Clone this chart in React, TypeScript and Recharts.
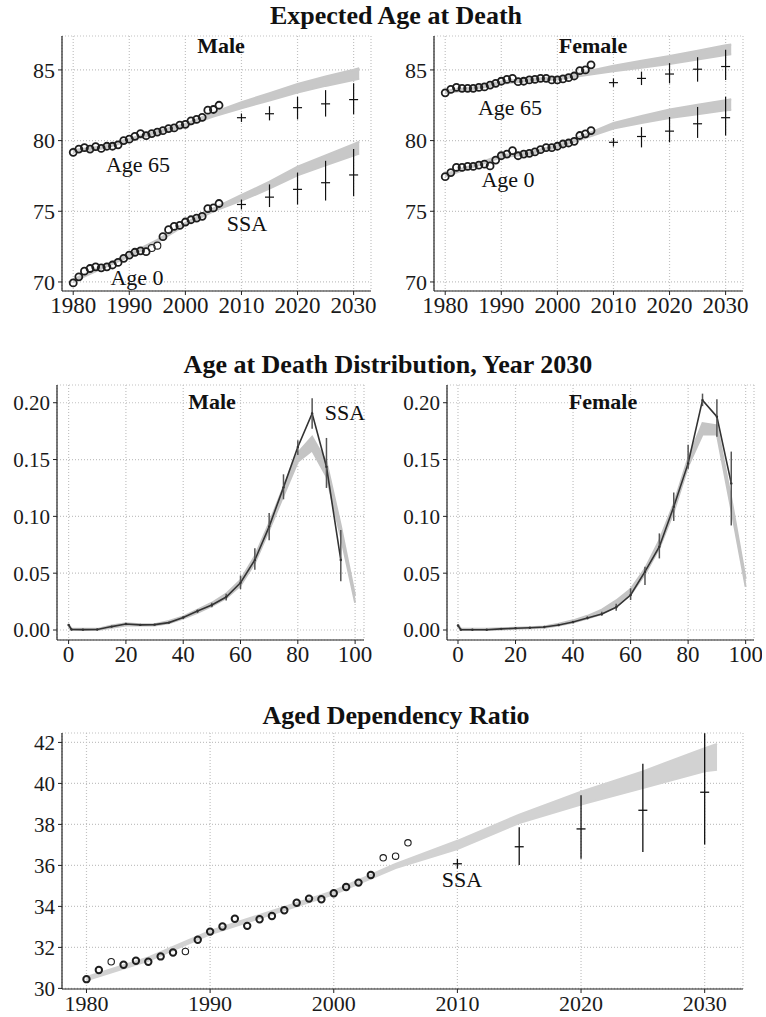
import React from 'react';
import { ComposedChart, XAxis, YAxis, CartesianGrid, Area, Line, Scatter, ErrorBar } from 'recharts';

// ---- years / ages ----
const OBS_YEARS = [
  1980, 1981, 1982, 1983, 1984, 1985, 1986, 1987, 1988, 1989, 1990, 1991, 1992, 1993,
  1994, 1995, 1996, 1997, 1998, 1999, 2000, 2001, 2002, 2003, 2004, 2005, 2006,
];
const BAND_YEARS = [1980, 1985, 1990, 1995, 2000, 2005, 2010, 2015, 2020, 2025, 2030, 2031];
const SSA_YEARS = [2010, 2015, 2020, 2025, 2030];
const YEAR_TICKS = [1980, 1990, 2000, 2010, 2020, 2030];

// ---- expected age at death: observed ----
const MALE_E65 = [79.17, 79.4, 79.5, 79.4, 79.57, 79.45, 79.6, 79.6, 79.7, 80.0, 80.1, 80.3, 80.5, 80.35, 80.5, 80.6, 80.7, 80.85, 80.9, 81.1, 81.15, 81.4, 81.5, 81.65, 82.15, 82.2, 82.5];
const MALE_E0 = [69.93, 70.36, 70.76, 70.95, 71.07, 71.0, 71.07, 71.2, 71.38, 71.67, 71.9, 72.1, 72.2, 72.14, 72.4, 72.57, 73.2, 73.7, 73.93, 74.0, 74.24, 74.4, 74.52, 74.64, 75.19, 75.24, 75.55];
const FEMALE_E65 = [83.38, 83.62, 83.76, 83.7, 83.7, 83.7, 83.76, 83.8, 83.93, 84.05, 84.2, 84.33, 84.4, 84.17, 84.2, 84.29, 84.33, 84.4, 84.4, 84.29, 84.29, 84.36, 84.45, 84.57, 84.95, 85.0, 85.36];
const FEMALE_E0 = [77.45, 77.74, 78.1, 78.1, 78.17, 78.17, 78.26, 78.33, 78.21, 78.62, 78.93, 79.05, 79.29, 78.93, 79.05, 79.1, 79.2, 79.36, 79.5, 79.5, 79.6, 79.76, 79.83, 79.95, 80.36, 80.48, 80.71];
const MALE_E0_THIN = [1994, 1995];

// ---- expected age at death: forecast bands ----
const MALE_E65_LO = [79.17, 79.42, 79.97, 80.52, 81.02, 81.7, 82.28, 82.84, 83.4, 83.87, 84.29, 84.37];
const MALE_E65_HI = [79.33, 79.58, 80.13, 80.68, 81.18, 82.0, 82.72, 83.36, 84.0, 84.53, 85.01, 85.13];
const MALE_E0_LO = [70.02, 70.92, 71.82, 72.82, 74.02, 75.0, 75.75, 76.6, 77.55, 78.25, 78.95, 79.08];
const MALE_E0_HI = [70.18, 71.08, 71.98, 72.98, 74.18, 75.2, 76.15, 77.1, 78.15, 78.95, 79.75, 79.92];
const FEMALE_E65_LO = [83.37, 83.62, 84.02, 84.22, 84.32, 84.63, 84.9, 85.15, 85.42, 85.74, 86.06, 86.1];
const FEMALE_E65_HI = [83.53, 83.78, 84.18, 84.38, 84.48, 84.87, 85.3, 85.65, 85.98, 86.36, 86.74, 86.8];
const FEMALE_E0_LO = [77.47, 78.12, 78.82, 79.02, 79.52, 80.18, 80.85, 81.25, 81.6, 81.87, 82.14, 82.17];
const FEMALE_E0_HI = [77.63, 78.28, 78.98, 79.18, 79.68, 80.42, 81.25, 81.75, 82.2, 82.53, 82.86, 82.93];

// ---- expected age at death: SSA ----
const SSA_MALE_E65 = [81.62, 81.9, 82.33, 82.6, 82.9];
const SSA_MALE_E65_LO = [81.32, 81.43, 81.5, 81.7, 81.86];
const SSA_MALE_E65_HI = [81.92, 82.43, 83.1, 83.57, 84.05];
const SSA_MALE_E0 = [75.48, 76.0, 76.55, 77.02, 77.57];
const SSA_MALE_E0_LO = [75.13, 75.3, 75.48, 75.76, 76.07];
const SSA_MALE_E0_HI = [75.83, 76.9, 77.74, 78.57, 79.4];
const SSA_FEMALE_E65 = [84.1, 84.4, 84.71, 85.05, 85.24];
const SSA_FEMALE_E65_LO = [83.8, 83.93, 84.05, 84.17, 84.29];
const SSA_FEMALE_E65_HI = [84.4, 84.88, 85.48, 85.9, 86.43];
const SSA_FEMALE_E0 = [79.88, 80.29, 80.67, 81.19, 81.62];
const SSA_FEMALE_E0_LO = [79.58, 79.52, 79.88, 80.19, 80.36];
const SSA_FEMALE_E0_HI = [80.18, 80.95, 81.67, 82.38, 83.1];

// ---- age at death distribution, 2030 ----
const AGES = [0, 1, 5, 10, 15, 20, 25, 30, 35, 40, 45, 50, 55, 60, 65, 70, 75, 80, 85, 90, 95];
const BAND_AGES = [0, 1, 5, 10, 15, 20, 25, 30, 35, 40, 45, 50, 55, 60, 65, 70, 75, 80, 85, 90, 95, 100];
const ERR_AGES = [40, 45, 50, 55, 60, 65, 70, 75, 80, 85, 90, 95];
const AGE_TICKS = [0, 20, 40, 60, 80, 100];

const MALE_DIST_SSA = [0.0044, 0.0005, 0.0003, 0.0004, 0.003, 0.0053, 0.0045, 0.0047, 0.0065, 0.011, 0.0167, 0.022, 0.029, 0.0416, 0.0616, 0.091, 0.1255, 0.161, 0.1906, 0.1437, 0.0616];
const MALE_DIST_LO = [0.010, 0.015, 0.020, 0.026, 0.036, 0.053, 0.079, 0.115, 0.154, 0.177, 0.125, 0.043];
const MALE_DIST_HI = [0.012, 0.018, 0.024, 0.032, 0.048, 0.072, 0.103, 0.137, 0.167, 0.204, 0.169, 0.088];
const MALE_DIST_BAND_LO = [0.003, 0, 0, 0, 0.002, 0.004, 0.004, 0.004, 0.006, 0.010, 0.015, 0.021, 0.028, 0.039, 0.059, 0.088, 0.118, 0.148, 0.158, 0.135, 0.082, 0.024];
const MALE_DIST_BAND_HI = [0.005, 0.001, 0.001, 0.001, 0.004, 0.006, 0.005, 0.005, 0.008, 0.012, 0.018, 0.024, 0.032, 0.044, 0.065, 0.094, 0.126, 0.156, 0.170, 0.148, 0.092, 0.030];

const FEMALE_DIST_SSA = [0.004, 0.0003, 0.0002, 0.0002, 0.001, 0.0015, 0.002, 0.0026, 0.0044, 0.007, 0.0106, 0.014, 0.02, 0.0308, 0.0513, 0.0733, 0.1085, 0.1466, 0.2023, 0.1877, 0.129];
const FEMALE_DIST_LO = [0.006, 0.0095, 0.0125, 0.017, 0.0264, 0.0396, 0.063, 0.096, 0.142, 0.197, 0.170, 0.092];
const FEMALE_DIST_HI = [0.008, 0.012, 0.016, 0.023, 0.0367, 0.0557, 0.085, 0.121, 0.163, 0.208, 0.203, 0.157];
const FEMALE_DIST_BAND_LO = [0.003, 0, 0, 0, 0.0005, 0.001, 0.0015, 0.002, 0.004, 0.0065, 0.010, 0.014, 0.021, 0.031, 0.049, 0.072, 0.104, 0.144, 0.172, 0.172, 0.106, 0.038];
const FEMALE_DIST_BAND_HI = [0.005, 0.001, 0.001, 0.001, 0.0015, 0.002, 0.0025, 0.003, 0.0055, 0.0085, 0.0125, 0.018, 0.026, 0.036, 0.054, 0.079, 0.111, 0.151, 0.182, 0.180, 0.116, 0.045];

// ---- aged dependency ratio ----
const DEP_OBS = [30.45, 30.9, 31.3, 31.15, 31.35, 31.3, 31.56, 31.75, 31.8, 32.37, 32.77, 33.02, 33.4, 33.05, 33.37, 33.53, 33.81, 34.18, 34.38, 34.35, 34.64, 34.95, 35.16, 35.53, 36.37, 36.45, 37.1];
const DEP_THIN = [1982, 1988, 2004, 2005, 2006];
const DEP_BAND_LO = [30.4, 31.35, 32.64, 33.62, 34.59, 35.87, 36.8, 38.07, 38.97, 39.78, 40.59, 40.67];
const DEP_BAND_HI = [30.56, 31.51, 32.8, 33.78, 34.75, 36.07, 37.2, 38.48, 39.6, 40.59, 41.72, 41.93];
const SSA_DEP = [36.08, 36.91, 37.78, 38.69, 39.57];
const SSA_DEP_LO = [35.84, 36.02, 36.32, 36.66, 37.02];
const SSA_DEP_HI = [36.32, 37.86, 39.42, 40.96, 42.45];

const SERIF = '"Liberation Serif", "DejaVu Serif", serif';
const Y_AXIS_W = 60;
const X_AXIS_H = 34;
const TOP_PAD = 14;

const points = (xs: number[], ys: number[]) => xs.map((x, i) => ({ x, y: ys[i] }));
const band = (xs: number[], lo: number[], hi: number[]) => xs.map((x, i) => ({ x, band: [lo[i], hi[i]] }));
const withErr = (xs: number[], v: number[], lo: number[], hi: number[]) =>
  xs.map((x, i) => ({ x, y: v[i], err: [v[i] - lo[i], hi[i] - v[i]] }));

type Box = { x0: number; x1: number; y0: number; y1: number };

function Panel({
  box, xDomain, xTicks, yDomain, yTicks, yFmt, xFont, yFont, children,
}: {
  box: Box; xDomain: [number, number]; xTicks: number[]; yDomain: [number, number]; yTicks: number[];
  yFmt?: (v: number) => string; xFont: number; yFont: number; children: React.ReactNode;
}) {
  const width = Y_AXIS_W + box.x1 - box.x0 + 8;
  const height = TOP_PAD + box.y1 - box.y0 + X_AXIS_H;
  return (
    <div style={{ position: 'absolute', left: box.x0 - Y_AXIS_W, top: box.y0 - TOP_PAD }}>
      <ComposedChart width={width} height={height} margin={{ top: TOP_PAD, right: 8, bottom: 0, left: 0 }}>
        <CartesianGrid stroke="#c2c2c2" strokeDasharray="1 2" strokeWidth={1.2} />
        <XAxis
          type="number"
          dataKey="x"
          domain={xDomain}
          ticks={xTicks}
          interval={0}
          allowDataOverflow
          height={X_AXIS_H}
          tick={{ fontFamily: SERIF, fontSize: xFont, fill: '#1a1a1a' }}
          tickSize={4}
          tickMargin={2}
          axisLine={{ stroke: '#222', strokeWidth: 1.2 }}
          tickLine={{ stroke: '#222' }}
        />
        <YAxis
          type="number"
          domain={yDomain}
          ticks={yTicks}
          interval={0}
          allowDataOverflow
          width={Y_AXIS_W}
          tick={{ fontFamily: SERIF, fontSize: yFont, fill: '#1a1a1a' }}
          tickFormatter={yFmt}
          tickSize={4}
          tickMargin={3}
          axisLine={{ stroke: '#222', strokeWidth: 1.2 }}
          tickLine={{ stroke: '#222' }}
        />
        {children}
      </ComposedChart>
    </div>
  );
}

const circleShape = (thin: number[], r: number, w: number) => (p: any) => (
  <circle
    cx={p.cx}
    cy={p.cy}
    r={r}
    fill="none"
    stroke="#1e1e1e"
    strokeWidth={thin.includes(p.payload?.x) ? 1.1 : w}
  />
);

const dashShape = (half: number, w: number) => (p: any) => (
  <line x1={p.cx - half} x2={p.cx + half} y1={p.cy} y2={p.cy} stroke="#111" strokeWidth={w} />
);

const emptyShape = () => <g />;

function Txt({ x, y, size, bold, children }: { x: number; y: number; size: number; bold?: boolean; children: React.ReactNode }) {
  return (
    <div
      style={{
        position: 'absolute', left: x, top: y, transform: 'translate(-50%, -50%)',
        fontFamily: SERIF, fontSize: size, fontWeight: bold ? 700 : 400,
        whiteSpace: 'nowrap', lineHeight: 1, color: '#111',
      }}
    >
      {children}
    </div>
  );
}

const bandArea = (key: string, data: any[], color: string) => (
  <Area
    key={key}
    data={data}
    dataKey="band"
    type="linear"
    stroke={color}
    strokeWidth={2}
    fill={color}
    fillOpacity={1}
    dot={false}
    activeDot={false}
    isAnimationActive={false}
  />
);

const obsScatter = (key: string, data: any[], thin: number[], r: number, w: number) => (
  <Scatter key={key} data={data} dataKey="y" shape={circleShape(thin, r, w)} isAnimationActive={false} />
);

const ssaScatter = (key: string, data: any[], half: number, w: number) => (
  <Scatter key={key} data={data} dataKey="y" shape={dashShape(half, w)} isAnimationActive={false}>
    <ErrorBar dataKey="err" direction="y" width={0} stroke="#111" strokeWidth={w} />
  </Scatter>
);

export default function App() {
  const topY: [number, number] = [69.36, 87.4];
  const topX: [number, number] = [1978, 2033.1];
  const midY: [number, number] = [-0.0088, 0.2156];
  const fmt2 = (v: number) => v.toFixed(2);

  return (
    <div style={{ position: 'absolute', left: 0, top: 0, width: 766, height: 1017, background: '#fff', overflow: 'hidden' }}>
      <Panel box={{ x0: 62, x1: 371, y0: 36, y1: 291 }} xDomain={topX} xTicks={YEAR_TICKS} yDomain={topY} yTicks={[70, 75, 80, 85]} xFont={23} yFont={22}>
        {[
          bandArea('b65', band(BAND_YEARS, MALE_E65_LO, MALE_E65_HI), '#c8c8c8'),
          bandArea('b0', band(BAND_YEARS, MALE_E0_LO, MALE_E0_HI), '#c8c8c8'),
          obsScatter('o65', points(OBS_YEARS, MALE_E65), [], 3.5, 1.8),
          obsScatter('o0', points(OBS_YEARS, MALE_E0), MALE_E0_THIN, 3.5, 1.8),
          ssaScatter('s65', withErr(SSA_YEARS, SSA_MALE_E65, SSA_MALE_E65_LO, SSA_MALE_E65_HI), 4.5, 1.2),
          ssaScatter('s0', withErr(SSA_YEARS, SSA_MALE_E0, SSA_MALE_E0_LO, SSA_MALE_E0_HI), 4.5, 1.2),
        ]}
      </Panel>

      <Panel box={{ x0: 434, x1: 743, y0: 36, y1: 291 }} xDomain={topX} xTicks={YEAR_TICKS} yDomain={topY} yTicks={[70, 75, 80, 85]} xFont={23} yFont={22}>
        {[
          bandArea('b65', band(BAND_YEARS, FEMALE_E65_LO, FEMALE_E65_HI), '#c8c8c8'),
          bandArea('b0', band(BAND_YEARS, FEMALE_E0_LO, FEMALE_E0_HI), '#c8c8c8'),
          obsScatter('o65', points(OBS_YEARS, FEMALE_E65), [], 3.5, 1.8),
          obsScatter('o0', points(OBS_YEARS, FEMALE_E0), [], 3.5, 1.8),
          ssaScatter('s65', withErr(SSA_YEARS, SSA_FEMALE_E65, SSA_FEMALE_E65_LO, SSA_FEMALE_E65_HI), 4.5, 1.2),
          ssaScatter('s0', withErr(SSA_YEARS, SSA_FEMALE_E0, SSA_FEMALE_E0_LO, SSA_FEMALE_E0_HI), 4.5, 1.2),
        ]}
      </Panel>

      <Panel box={{ x0: 57, x1: 364, y0: 385, y1: 640 }} xDomain={[-4.05, 103.1]} xTicks={AGE_TICKS} yDomain={midY} yTicks={[0, 0.05, 0.1, 0.15, 0.2]} yFmt={fmt2} xFont={23} yFont={21}>
        {[
          bandArea('band', band(BAND_AGES, MALE_DIST_BAND_LO, MALE_DIST_BAND_HI), '#c4c4c4'),
          <Line key="ssa" data={points(AGES, MALE_DIST_SSA)} dataKey="y" type="linear" stroke="#333" strokeWidth={1.6} dot={{ r: 1.2, fill: '#333', stroke: 'none' }} activeDot={false} isAnimationActive={false} />,
          <Scatter key="err" data={withErr(ERR_AGES, MALE_DIST_SSA.slice(9), MALE_DIST_LO, MALE_DIST_HI)} dataKey="y" shape={emptyShape} isAnimationActive={false}>
            <ErrorBar dataKey="err" direction="y" width={0} stroke="#555" strokeWidth={1.5} />
          </Scatter>,
        ]}
      </Panel>

      <Panel box={{ x0: 447, x1: 754, y0: 385, y1: 640 }} xDomain={[-3.82, 102.9]} xTicks={AGE_TICKS} yDomain={midY} yTicks={[0, 0.05, 0.1, 0.15, 0.2]} yFmt={fmt2} xFont={23} yFont={21}>
        {[
          bandArea('band', band(BAND_AGES, FEMALE_DIST_BAND_LO, FEMALE_DIST_BAND_HI), '#c4c4c4'),
          <Line key="ssa" data={points(AGES, FEMALE_DIST_SSA)} dataKey="y" type="linear" stroke="#333" strokeWidth={1.6} dot={{ r: 1.2, fill: '#333', stroke: 'none' }} activeDot={false} isAnimationActive={false} />,
          <Scatter key="err" data={withErr(ERR_AGES, FEMALE_DIST_SSA.slice(9), FEMALE_DIST_LO, FEMALE_DIST_HI)} dataKey="y" shape={emptyShape} isAnimationActive={false}>
            <ErrorBar dataKey="err" direction="y" width={0} stroke="#555" strokeWidth={1.5} />
          </Scatter>,
        ]}
      </Panel>

      <Panel box={{ x0: 62, x1: 743, y0: 733, y1: 989 }} xDomain={[1978.02, 2033.1]} xTicks={YEAR_TICKS} yDomain={[29.97, 42.46]} yTicks={[30, 32, 34, 36, 38, 40, 42]} xFont={22} yFont={21}>
        {[
          bandArea('band', band(BAND_YEARS, DEP_BAND_LO, DEP_BAND_HI), '#d2d2d2'),
          obsScatter('obs', points(OBS_YEARS, DEP_OBS), DEP_THIN, 3.2, 2),
          ssaScatter('ssa', withErr(SSA_YEARS, SSA_DEP, SSA_DEP_LO, SSA_DEP_HI), 4.5, 1.3),
        ]}
      </Panel>

      <Txt x={396} y={16} size={26} bold>Expected Age at Death</Txt>
      <Txt x={221} y={46} size={22} bold>Male</Txt>
      <Txt x={593} y={46} size={22} bold>Female</Txt>
      <Txt x={138} y={165} size={22}>Age 65</Txt>
      <Txt x={247} y={224} size={22}>SSA</Txt>
      <Txt x={137} y={278} size={22}>Age 0</Txt>
      <Txt x={510} y={108} size={22}>Age 65</Txt>
      <Txt x={508} y={180} size={22}>Age 0</Txt>

      <Txt x={388} y={365} size={26} bold>Age at Death Distribution, Year 2030</Txt>
      <Txt x={212} y={402} size={22} bold>Male</Txt>
      <Txt x={345} y={413} size={22}>SSA</Txt>
      <Txt x={603} y={402} size={22} bold>Female</Txt>

      <Txt x={396} y={716} size={26} bold>Aged Dependency Ratio</Txt>
      <Txt x={462} y={880} size={22}>SSA</Txt>
    </div>
  );
}
